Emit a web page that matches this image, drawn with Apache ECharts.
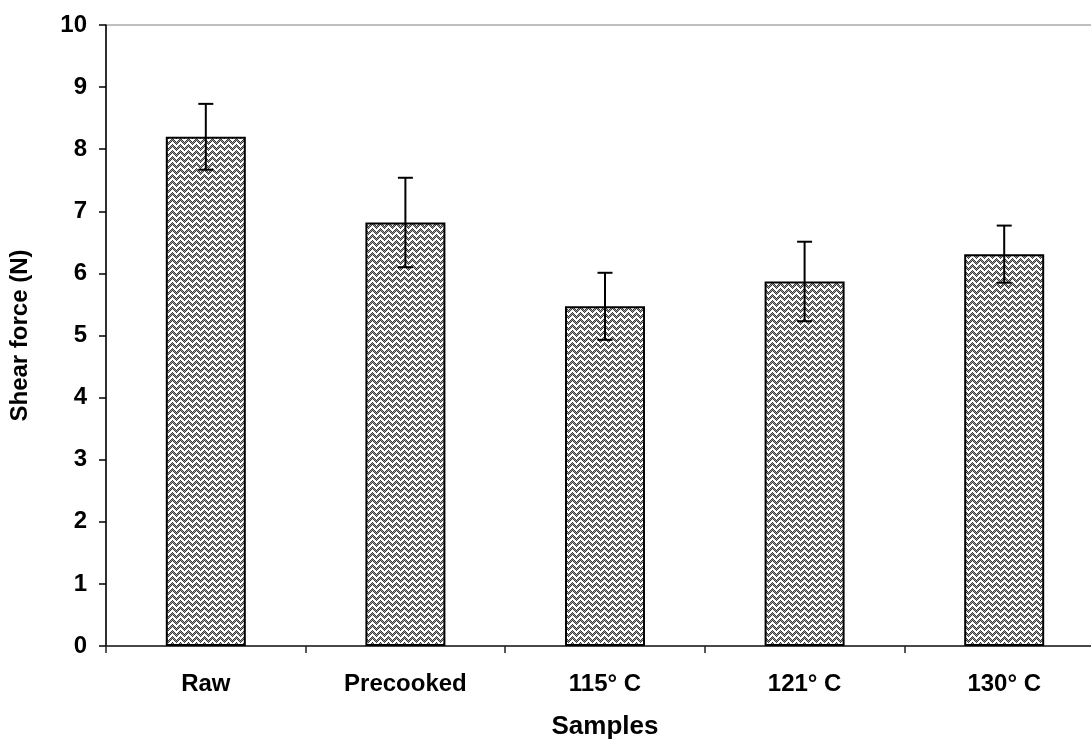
<!DOCTYPE html>
<html>
<head>
<meta charset="utf-8">
<script src="https://cdn.jsdelivr.net/npm/echarts@6/dist/echarts.min.js"></script>
<style>
  html, body { margin: 0; padding: 0; background: #fff; overflow: hidden; }
  #chart { width: 1091px; height: 740px; }
</style>
</head>
<body>
<div id="chart"></div>
<script>
// Shear force of samples (mean ± SD)
const categories = ['Raw', 'Precooked', '115° C', '121° C', '130° C'];
const shearForce = [8.2, 6.82, 5.47, 5.87, 6.31];
const shearSD = [0.53, 0.72, 0.54, 0.64, 0.46];
const yTicks = { min: 0, max: 10, step: 1 };

// Dithered zigzag weave tile used as the bar fill
function makeHatch() {
  const w = 8, h = 6;
  const c = document.createElement('canvas');
  c.width = w; c.height = h;
  const ctx = c.getContext('2d');
  ctx.fillStyle = '#ffffff';
  ctx.fillRect(0, 0, w, h);
  for (let x = 0; x < w; x++) {
    const y0 = Math.abs(x - 4);
    for (let k = 0; k < 3; k++) {
      const y = (y0 + k) % h;
      if ((x + y) % 2 === 0) {
        ctx.fillStyle = '#3a3a3a';
      } else {
        ctx.fillStyle = k === 1 ? '#9a9a9a' : '#d0d0d0';
      }
      ctx.fillRect(x, y, 1, 1);
    }
  }
  return c;
}

const chart = echarts.init(document.getElementById('chart'), null, { renderer: 'canvas' });
const fontFamily = '"Liberation Sans", Arial, sans-serif';

chart.setOption({
  animation: false,
  backgroundColor: '#ffffff',
  grid: {
    left: 106, top: 25, width: 998, height: 621,
    outerBoundsMode: 'none',
    containLabel: false,
    show: true, borderColor: '#808080', borderWidth: 1, backgroundColor: 'transparent'
  },
  xAxis: {
    type: 'category',
    data: categories,
    name: 'Samples',
    nameLocation: 'middle',
    nameGap: 68,
    nameTextStyle: { fontFamily, fontWeight: 'bold', fontSize: 26, color: '#000' },
    axisLine: { lineStyle: { color: '#222', width: 1.5 } },
    axisTick: { show: true, inside: false, length: 7, alignWithLabel: false, lineStyle: { color: '#222', width: 1.5 } },
    axisLabel: { fontFamily, fontWeight: 'bold', fontSize: 24, color: '#000', margin: 26 },
    splitLine: { show: false }
  },
  yAxis: {
    type: 'value',
    min: yTicks.min, max: yTicks.max, interval: yTicks.step,
    name: 'Shear force (N)',
    nameLocation: 'middle',
    nameGap: 74,
    nameRotate: 90,
    nameTextStyle: { fontFamily, fontWeight: 'bold', fontSize: 24, color: '#000' },
    axisLine: { show: true, lineStyle: { color: '#000', width: 1.5 } },
    axisTick: { show: true, inside: false, length: 7, lineStyle: { color: '#000', width: 1.5 } },
    axisLabel: { fontFamily, fontWeight: 'bold', fontSize: 24, color: '#000', margin: 19 },
    splitLine: { show: false }
  },
  series: [
    {
      type: 'bar',
      data: shearForce,
      barWidth: 80,
      itemStyle: {
        color: { image: makeHatch(), repeat: 'repeat' },
        borderColor: '#000',
        borderWidth: 2
      },
      z: 2
    },
    {
      type: 'custom',
      data: shearForce.map((v, i) => [i, v - shearSD[i], v + shearSD[i]]),
      z: 3,
      renderItem: function (params, api) {
        const lo = api.coord([api.value(0), api.value(1)]);
        const hi = api.coord([api.value(0), api.value(2)]);
        const half = 7.5;
        const style = { stroke: '#000', lineWidth: 2 };
        return {
          type: 'group',
          children: [
            { type: 'line', shape: { x1: lo[0], y1: lo[1], x2: hi[0], y2: hi[1] }, style },
            { type: 'line', shape: { x1: hi[0] - half, y1: hi[1], x2: hi[0] + half, y2: hi[1] }, style },
            { type: 'line', shape: { x1: lo[0] - half, y1: lo[1], x2: lo[0] + half, y2: lo[1] }, style }
          ]
        };
      }
    }
  ]
});
</script>
</body>
</html>
